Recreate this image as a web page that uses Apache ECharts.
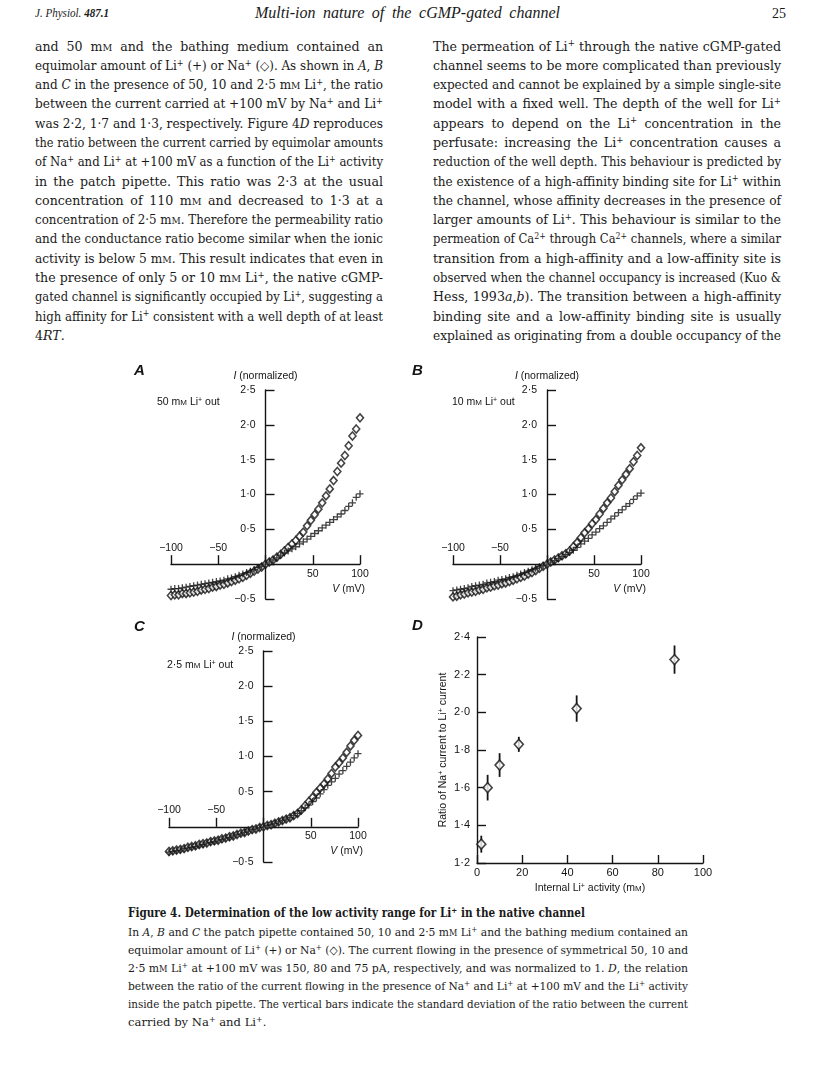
<!DOCTYPE html>
<html>
<head>
<meta charset="utf-8">
<script src="https://cdn.jsdelivr.net/npm/echarts@6/dist/echarts.min.js"></script>
<style>
html,body{margin:0;padding:0;background:#fff;}
#page{position:relative;width:816px;height:1088px;overflow:hidden;background:#fff;}
#chart{position:absolute;left:0;top:0;width:816px;height:1088px;z-index:2;pointer-events:none;}
.blk{position:absolute;font-family:"DejaVu Serif","Liberation Serif",serif;color:#1a1a1a;z-index:1;}
.ln{white-space:nowrap;overflow:visible;}
.ln .in{display:inline-block;transform-origin:0 50%;}
sup{font-size:0.68em;line-height:0;vertical-align:baseline;position:relative;top:-0.5em;}
.sc{font-size:0.76em;}
</style>
</head>
<body>
<div id="page">
  <div id="texts"></div>
  <div id="chart"></div>
</div>
<script>
// ---------------- DATA ----------------
const volts = [-100,-96,-92,-88,-84,-80,-76,-72,-68,-64,-60,-56,-52,-48,-44,-40,-36,-32,-28,-24,-20,-16,-12,-8,-4,0,4,8,12,16,20,24,28,32,36,40,44,48,52,56,60,64,68,72,76,80,84,88,92,96,100];

// Panel A: 50 mM Li+ out
const naA = [-0.45,-0.44,-0.44,-0.42,-0.42,-0.41,-0.40,-0.39,-0.37,-0.36,-0.35,-0.33,-0.32,-0.30,-0.29,-0.27,-0.25,-0.23,-0.21,-0.19,-0.16,-0.13,-0.10,-0.07,-0.04,0.00,0.03,0.06,0.10,0.14,0.19,0.24,0.29,0.34,0.40,0.46,0.55,0.63,0.71,0.79,0.88,0.98,1.08,1.20,1.33,1.45,1.56,1.70,1.84,1.94,2.10];
const liA = [-0.36,-0.35,-0.35,-0.34,-0.33,-0.32,-0.31,-0.30,-0.29,-0.28,-0.27,-0.26,-0.25,-0.24,-0.23,-0.21,-0.20,-0.18,-0.16,-0.14,-0.12,-0.10,-0.08,-0.05,-0.03,0.00,0.03,0.06,0.09,0.13,0.16,0.19,0.22,0.25,0.29,0.32,0.36,0.40,0.44,0.48,0.52,0.56,0.60,0.64,0.68,0.72,0.77,0.83,0.88,0.96,1.01];

// Panel B: 10 mM Li+ out
const naB = [-0.47,-0.46,-0.44,-0.43,-0.41,-0.40,-0.39,-0.37,-0.36,-0.34,-0.33,-0.31,-0.30,-0.28,-0.27,-0.25,-0.23,-0.21,-0.19,-0.17,-0.14,-0.12,-0.09,-0.06,-0.03,0.00,0.03,0.06,0.09,0.12,0.15,0.19,0.25,0.31,0.38,0.45,0.51,0.58,0.64,0.72,0.80,0.88,0.95,1.04,1.13,1.21,1.29,1.37,1.47,1.56,1.67];
const liB = [-0.38,-0.37,-0.36,-0.35,-0.34,-0.32,-0.31,-0.30,-0.29,-0.27,-0.26,-0.25,-0.23,-0.22,-0.21,-0.19,-0.18,-0.16,-0.14,-0.12,-0.10,-0.08,-0.06,-0.04,-0.02,0.00,0.03,0.05,0.08,0.11,0.14,0.17,0.20,0.24,0.29,0.33,0.37,0.42,0.46,0.51,0.55,0.60,0.65,0.69,0.74,0.78,0.83,0.87,0.93,0.98,1.02];

// Panel C: 2.5 mM Li+ out
const naC = [-0.35,-0.34,-0.33,-0.32,-0.31,-0.29,-0.28,-0.27,-0.25,-0.24,-0.23,-0.21,-0.20,-0.19,-0.17,-0.16,-0.14,-0.13,-0.11,-0.09,-0.08,-0.06,-0.04,-0.03,-0.01,0.00,0.02,0.03,0.05,0.07,0.09,0.11,0.13,0.16,0.19,0.24,0.30,0.36,0.42,0.49,0.55,0.61,0.68,0.76,0.85,0.91,0.98,1.06,1.15,1.23,1.30];
const liC = [-0.36,-0.35,-0.34,-0.33,-0.31,-0.30,-0.29,-0.28,-0.26,-0.25,-0.23,-0.22,-0.21,-0.19,-0.18,-0.16,-0.15,-0.13,-0.11,-0.10,-0.08,-0.06,-0.04,-0.03,-0.01,0.00,0.02,0.03,0.05,0.07,0.09,0.11,0.13,0.16,0.19,0.23,0.27,0.31,0.36,0.41,0.47,0.53,0.59,0.64,0.69,0.75,0.80,0.86,0.92,0.98,1.04];

// Panel D: ratio vs internal Li+ activity
const activity = [1.9, 4.7, 10.0, 18.5, 44.1, 87.4];
const ratio    = [1.30, 1.60, 1.72, 1.83, 2.02, 2.28];
const ratioSD  = [0.045, 0.068, 0.063, 0.04, 0.07, 0.075];

const concLabels = ['50', '10', '2·5'];
const panelLetters = ['A', 'B', 'C', 'D'];
const vRange = [-100, 100];
const iRange = [-0.5, 2.5];

// ---------------- TEXT ----------------
const MM = 'm<span class="sc">M</span>';
const leftCol = [
 'and 50 '+MM+' and the bathing medium contained an',
 'equimolar amount of Li<sup>+</sup> (+) or Na<sup>+</sup> (◇). As shown in <i>A</i>, <i>B</i>',
 'and <i>C</i> in the presence of 50, 10 and 2·5 '+MM+' Li<sup>+</sup>, the ratio',
 'between the current carried at +100 mV by Na<sup>+</sup> and Li<sup>+</sup>',
 'was 2·2, 1·7 and 1·3, respectively. Figure 4<i>D</i> reproduces',
 'the ratio between the current carried by equimolar amounts',
 'of Na<sup>+</sup> and Li<sup>+</sup> at +100 mV as a function of the Li<sup>+</sup> activity',
 'in the patch pipette. This ratio was 2·3 at the usual',
 'concentration of 110 '+MM+' and decreased to 1·3 at a',
 'concentration of 2·5 '+MM+'. Therefore the permeability ratio',
 'and the conductance ratio become similar when the ionic',
 'activity is below 5 '+MM+'. This result indicates that even in',
 'the presence of only 5 or 10 '+MM+' Li<sup>+</sup>, the native cGMP-',
 'gated channel is significantly occupied by Li<sup>+</sup>, suggesting a',
 'high affinity for Li<sup>+</sup> consistent with a well depth of at least',
 '4<i>RT</i>.'
];
const rightCol = [
 'The permeation of Li<sup>+</sup> through the native cGMP-gated',
 'channel seems to be more complicated than previously',
 'expected and cannot be explained by a simple single-site',
 'model with a fixed well. The depth of the well for Li<sup>+</sup>',
 'appears to depend on the Li<sup>+</sup> concentration in the',
 'perfusate: increasing the Li<sup>+</sup> concentration causes a',
 'reduction of the well depth. This behaviour is predicted by',
 'the existence of a high-affinity binding site for Li<sup>+</sup> within',
 'the channel, whose affinity decreases in the presence of',
 'larger amounts of Li<sup>+</sup>. This behaviour is similar to the',
 'permeation of Ca<sup>2+</sup> through Ca<sup>2+</sup> channels, where a similar',
 'transition from a high-affinity and a low-affinity site is',
 'observed when the channel occupancy is increased (Kuo &amp;',
 'Hess, 1993<i>a</i>,<i>b</i>). The transition between a high-affinity',
 'binding site and a low-affinity binding site is usually',
 'explained as originating from a double occupancy of the'
];
const capLines = [
 'In <i>A</i>, <i>B</i> and <i>C</i> the patch pipette contained 50, 10 and 2·5 '+MM+' Li<sup>+</sup> and the bathing medium contained an',
 'equimolar amount of Li<sup>+</sup> (+) or Na<sup>+</sup> (◇). The current flowing in the presence of symmetrical 50, 10 and',
 '2·5 '+MM+' Li<sup>+</sup> at +100 mV was 150, 80 and 75 pA, respectively, and was normalized to 1. <i>D</i>, the relation',
 'between the ratio of the current flowing in the presence of Na<sup>+</sup> and Li<sup>+</sup> at +100 mV and the Li<sup>+</sup> activity',
 'inside the patch pipette. The vertical bars indicate the standard deviation of the ratio between the current',
 'carried by Na<sup>+</sup> and Li<sup>+</sup>.'
];

const host = document.getElementById('texts');
function block(lines, left, top, width, pitch, size, opts) {
  opts = opts || {};
  const d = document.createElement('div');
  d.className = 'blk';
  d.style.left = left + 'px'; d.style.top = top + 'px'; d.style.width = width + 'px';
  d.style.fontSize = size + 'px';
  if (opts.family) d.style.fontFamily = opts.family;
  if (opts.italic) d.style.fontStyle = 'italic';
  if (opts.bold) d.style.fontWeight = 'bold';
  lines.forEach((h, i) => {
    const ln = document.createElement('div');
    ln.className = 'ln';
    ln.style.height = pitch + 'px'; ln.style.lineHeight = pitch + 'px';
    const inn = document.createElement('span');
    inn.className = 'in';
    inn.innerHTML = h;
    ln.appendChild(inn);
    const isLast = (i === lines.length - 1) && opts.lastRagged;
    ln.dataset.w = width;
    ln.dataset.ragged = isLast ? '1' : (opts.noJustify ? '1' : '0');
    d.appendChild(ln);
  });
  host.appendChild(d);
  return d;
}
const TIMES = '"Liberation Serif","DejaVu Serif",serif';
block(['J. Physiol. <b>487.1</b>'], 35, 4, 74, 18, 12, {italic:true, family:TIMES});
block(['Multi-ion nature of the cGMP-gated channel'], 255, 3, 305, 20, 16, {italic:true, family:TIMES});
block(['25'], 772, 3, 14, 20, 15, {noJustify:true, family:TIMES});
block(leftCol, 35, 36.5, 348, 19.3, 12.6, {lastRagged:true});
block(rightCol, 433, 36.5, 348, 19.3, 12.6, {});
block(['Figure 4. Determination of the low activity range for Li<sup>+</sup> in the native channel'], 128, 904, 457, 18, 12, {bold:true});
block(capLines, 128, 923, 560, 18, 11.6, {lastRagged:true});

function fitLines() {
  document.querySelectorAll('.ln').forEach(ln => {
    const W = parseFloat(ln.dataset.w);
    const inn = ln.querySelector('.in');
    inn.style.wordSpacing = ''; inn.style.transform = '';
    const w = inn.getBoundingClientRect().width;
    const spaces = (inn.textContent.match(/ /g) || []).length;
    if (w > W) {
      inn.style.transform = 'scaleX(' + (W / w) + ')';
    } else if (ln.dataset.ragged !== '1' && spaces > 0) {
      inn.style.wordSpacing = ((W - w) / spaces) + 'px';
    }
  });
}
fitLines();
if (document.fonts && document.fonts.ready) document.fonts.ready.then(fitLines);

// ---------------- CHART ----------------
const SANS = '"Liberation Sans", Arial, Helvetica, sans-serif';
const INK = '#141414';
function dotNum(v, d) {
  const s = Math.abs(v).toFixed(d).replace('.', '·');
  return (v < 0 ? '\u2212' : '') + s;
}
const txt = {fontFamily: SANS, fontSize: 10.5, color: INK};
const axLine = {color: INK, width: 1.4};

const ivGrids = [
  {left: 171, top: 390, width: 189, height: 209},
  {left: 453, top: 390, width: 188, height: 209},
  {left: 169, top: 651, width: 189, height: 211}
];
const ivNa = [naA, naB, naC];
const ivLi = [liA, liB, liC];
const letterPos = [[134, 363], [412, 363], [134, 619], [412, 618]];
const notePos = [[157, 397], [452, 397], [167, 660]];

const grid = [], xAxis = [], yAxis = [], series = [], title = [];
ivGrids.forEach((g, k) => {
  grid.push(Object.assign({containLabel: false}, g));
  // shift axes so that they cross at the data origin (0, 0)
  const yOff = -g.width * (0 - vRange[0]) / (vRange[1] - vRange[0]);
  const xOff = -g.height * (0 - iRange[0]) / (iRange[1] - iRange[0]);
  yAxis.push({
    gridIndex: k, type: 'value', min: iRange[0], max: iRange[1], interval: 0.5,
    position: 'left', offset: yOff,
    axisLine: {show: true, onZero: false, lineStyle: axLine},
    axisTick: {show: true, inside: true, length: 9, lineStyle: axLine},
    axisLabel: Object.assign({margin: 10, formatter: v => (Math.abs(v) < 1e-9 ? '' : dotNum(v, 1))}, txt),
    splitLine: {show: false},
    name: '{i|I} (normalized)', nameLocation: 'end', nameGap: 8,
    nameTextStyle: Object.assign({rich: {i: {fontStyle: 'italic', fontFamily: SANS, fontSize: 10.5, color: INK}}}, txt)
  });
  xAxis.push({
    gridIndex: k, type: 'value', min: vRange[0], max: vRange[1], interval: 50, position: 'bottom', offset: xOff,
    axisLine: {show: true, onZero: false, lineStyle: axLine},
    axisTick: {show: true, inside: true, length: 9, lineStyle: axLine},
    axisLabel: Object.assign({margin: 4, formatter: v => (v > 0 ? String(v) : '')}, txt),
    splitLine: {show: false},
    name: '{i|V} (mV)', nameLocation: 'end', nameGap: 5,
    nameTextStyle: Object.assign({align: 'right', verticalAlign: 'top', padding: [19, 0, 0, 0],
      rich: {i: {fontStyle: 'italic', fontFamily: SANS, fontSize: 10.5, color: INK}}}, txt)
  });
  xAxis.push({
    gridIndex: k, type: 'value', min: vRange[0], max: vRange[1], interval: 50, position: 'bottom', offset: xOff,
    axisLine: {show: false, onZero: false},
    axisTick: {show: false},
    axisLabel: Object.assign({inside: true, margin: 11, formatter: v => (v < 0 ? dotNum(v, 0) : '')}, txt),
    splitLine: {show: false}
  });
  series.push({
    type: 'scatter', xAxisIndex: 2 * k, yAxisIndex: k, silent: true, z: 2,
    data: volts.map((v, i) => [v, ivNa[k][i]]),
    symbol: 'diamond', symbolSize: [7, 8],
    itemStyle: {color: '#fff', borderColor: INK, borderWidth: 1.6}
  });
  series.push({
    type: 'scatter', xAxisIndex: 2 * k, yAxisIndex: k, silent: true, z: 3,
    data: volts.map((v, i) => [v, ivLi[k][i]]),
    symbol: 'path://M5,0L5,10M0,5L10,5', symbolSize: 7,
    itemStyle: {color: INK, borderColor: INK, borderWidth: 1.3}
  });
  title.push({
    text: concLabels[k] + ' m{sc|M} Li{sup|+} out', left: notePos[k][0], top: notePos[k][1], padding: 0,
    textStyle: Object.assign({fontWeight: 'normal', rich: {
      sc: {fontFamily: SANS, fontSize: 8, color: INK},
      sup: {fontFamily: SANS, fontSize: 7, color: INK, verticalAlign: 'top', lineHeight: 8}
    }}, txt)
  });
});

// Panel D
grid.push({left: 477, top: 637, width: 226, height: 226, containLabel: false});
xAxis.push({
  gridIndex: 3, type: 'value', min: 0, max: 100, interval: 20,
  axisLine: {show: true, onZero: false, lineStyle: axLine},
  axisTick: {show: true, inside: true, length: 8, lineStyle: axLine},
  axisLabel: Object.assign({margin: 4}, txt, {fontSize: 11}),
  splitLine: {show: false},
  name: '{n|Internal Li}{s|+}{n| activity (m}{c|M}{n|)}', nameLocation: 'middle', nameGap: 20,
  nameTextStyle: {rich: {
    n: {fontFamily: SANS, fontSize: 10.5, color: INK},
    s: {fontFamily: SANS, fontSize: 7, color: INK, verticalAlign: 'top', lineHeight: 8},
    c: {fontFamily: SANS, fontSize: 8, color: INK}
  }}
});
yAxis.push({
  gridIndex: 3, type: 'value', min: 1.2, max: 2.4, interval: 0.2,
  axisLine: {show: true, onZero: false, lineStyle: axLine},
  axisTick: {show: true, inside: true, length: 9, lineStyle: axLine},
  axisLabel: Object.assign({margin: 7, formatter: v => dotNum(v, 1)}, txt, {fontSize: 11}),
  splitLine: {show: false},
  name: '{n|Ratio of Na}{s|+}{n| current to Li}{s|+}{n| current}', nameLocation: 'middle', nameGap: 28,
  nameTextStyle: {rich: {
    n: {fontFamily: SANS, fontSize: 10.5, color: INK},
    s: {fontFamily: SANS, fontSize: 7, color: INK, verticalAlign: 'top', lineHeight: 8}
  }}
});
series.push({
  type: 'custom', xAxisIndex: 6, yAxisIndex: 3, silent: true, z: 1,
  data: activity.map((x, i) => [x, ratio[i] - ratioSD[i], ratio[i] + ratioSD[i]]),
  encode: {x: 0, y: [1, 2]},
  renderItem: (params, api) => {
    const lo = api.coord([api.value(0), api.value(1)]);
    const hi = api.coord([api.value(0), api.value(2)]);
    return {type: 'line', shape: {x1: lo[0], y1: lo[1], x2: hi[0], y2: hi[1]},
            style: {stroke: INK, lineWidth: 1.8}};
  }
});
series.push({
  type: 'scatter', xAxisIndex: 6, yAxisIndex: 3, silent: true, z: 2,
  data: activity.map((x, i) => [x, ratio[i]]),
  symbol: 'diamond', symbolSize: [9, 10],
  itemStyle: {color: '#fff', borderColor: INK, borderWidth: 1.6}
});

panelLetters.forEach((L, k) => {
  title.push({
    text: L, left: letterPos[k][0], top: letterPos[k][1], padding: 0,
    textStyle: {fontFamily: SANS, fontSize: 15, fontStyle: 'italic', fontWeight: 'bold', color: INK}
  });
});

const chart = echarts.init(document.getElementById('chart'), null, {renderer: 'canvas'});
chart.setOption({
  animation: false,
  backgroundColor: 'transparent',
  title: title,
  grid: grid,
  xAxis: xAxis,
  yAxis: yAxis,
  series: series
});
</script>
</body>
</html>
